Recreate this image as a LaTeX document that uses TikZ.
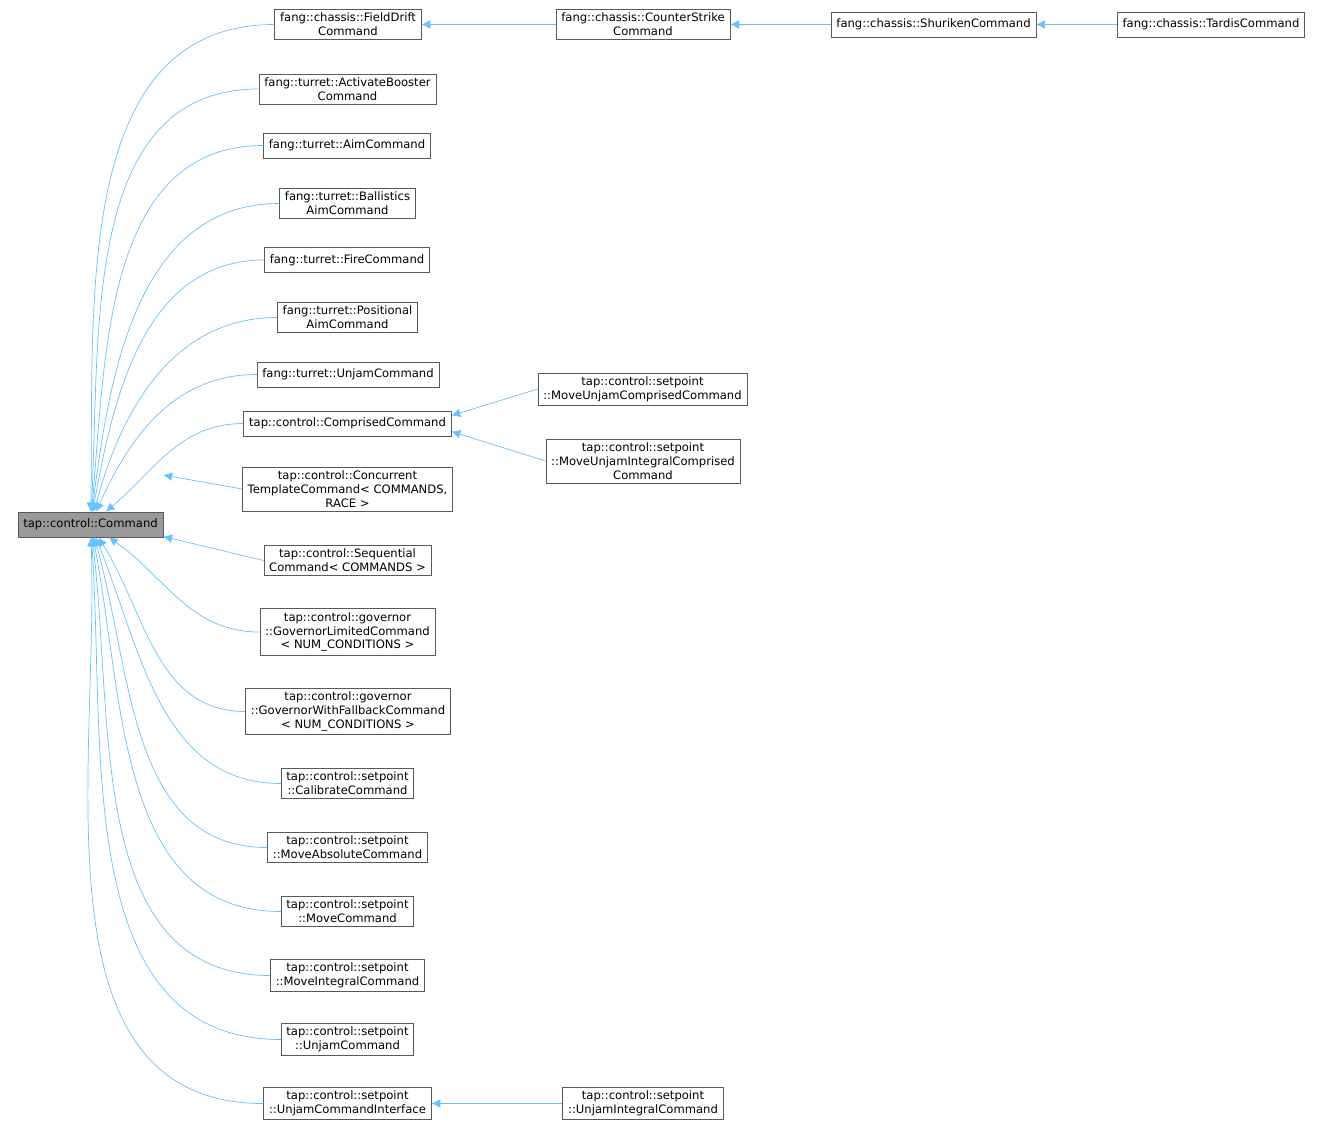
\documentclass[tikz,border=0pt]{standalone}
\usepackage{fontspec}
\setmainfont{DejaVu Sans}
\usetikzlibrary{arrows.meta}

\tikzset{
  cls/.style={draw=black!65, fill=white, align=center, font=\fontsize{6.6}{7.9}\selectfont,
    inner xsep=3pt, inner ysep=2pt, minimum height=0.5cm},
  base/.style={cls, fill=black!40},
  edge/.style={draw=blue!40!cyan!60, {Latex[length=5pt,width=5pt]}-}
}

\begin{document}
\begin{tikzpicture}[x=0.02cm,y=-0.02cm]
  \useasboundingbox (0,0) rectangle (1327,1129);

  \node[base] (cmd) at (90.5,524.5) {tap::control::Command};

  % first column
  \node[cls] (fdrift) at (348,24.5) {fang::chassis::FieldDrift\\Command};
  \node[cls] (boost) at (347.5,89) {fang::turret::ActivateBooster\\Command};
  \node[cls] (aim) at (347,145.5) {fang::turret::AimCommand};
  \node[cls] (ball) at (347.5,203.5) {fang::turret::Ballistics\\AimCommand};
  \node[cls] (fire) at (347,260) {fang::turret::FireCommand};
  \node[cls] (posaim) at (347.5,317.5) {fang::turret::Positional\\AimCommand};
  \node[cls] (tunjam) at (348,374.5) {fang::turret::UnjamCommand};
  \node[cls] (compr) at (347.5,423.5) {tap::control::ComprisedCommand};
  \node[cls] (conc) at (347.5,489) {tap::control::Concurrent\\TemplateCommand< COMMANDS,\\RACE >};
  \node[cls] (seq) at (347.5,560.5) {tap::control::Sequential\\Command< COMMANDS >};
  \node[cls] (govlim) at (347.5,632) {tap::control::governor\\::GovernorLimitedCommand\\< NUM\_CONDITIONS >};
  \node[cls] (govfb) at (348,711.5) {tap::control::governor\\::GovernorWithFallbackCommand\\< NUM\_CONDITIONS >};
  \node[cls] (calib) at (347.5,783.5) {tap::control::setpoint\\::CalibrateCommand};
  \node[cls] (moveabs) at (347.5,847.5) {tap::control::setpoint\\::MoveAbsoluteCommand};
  \node[cls] (move) at (347.5,911.5) {tap::control::setpoint\\::MoveCommand};
  \node[cls] (moveint) at (347.5,975.5) {tap::control::setpoint\\::MoveIntegralCommand};
  \node[cls] (sunjam) at (347.5,1039.5) {tap::control::setpoint\\::UnjamCommand};
  \node[cls] (unjamif) at (347.5,1103.5) {tap::control::setpoint\\::UnjamCommandInterface};

  % further columns
  \node[cls] (cstrike) at (643,24.5) {fang::chassis::CounterStrike\\Command};
  \node[cls] (shuri) at (933.5,24.5) {fang::chassis::ShurikenCommand};
  \node[cls] (tardis) at (1211,24.5) {fang::chassis::TardisCommand};
  \node[cls] (muc) at (642.5,389) {tap::control::setpoint\\::MoveUnjamComprisedCommand};
  \node[cls] (muic) at (643,461) {tap::control::setpoint\\::MoveUnjamIntegralComprised\\Command};
  \node[cls] (uic) at (643,1103.5) {tap::control::setpoint\\::UnjamIntegralCommand};

  % edges to the base
  \foreach \n/\a in {fdrift/89,boost/87,aim/85,ball/83,fire/80,posaim/75,tunjam/66,compr/40}
    \draw[edge] (cmd) to[out=\a,in=180] (\n.west);
  \draw[edge] (cmd.east |- conc.west) ++(0,-14) -- (conc.west);
  \draw[edge] (cmd.east) ++(0,12) -- (seq.west);
  \foreach \n/\a in {govlim/-35,govfb/-58,calib/-68,moveabs/-74,move/-79,moveint/-83,sunjam/-86,unjamif/-88}
    \draw[edge] (cmd) to[out=\a,in=180] (\n.west);

  \draw[edge] (fdrift) -- (cstrike);
  \draw[edge] (cstrike) -- (shuri);
  \draw[edge] (shuri) -- (tardis);
  \draw[edge] (compr.east) ++(0,-8) -- (muc.west);
  \draw[edge] (compr.east) ++(0,8) -- (muic.west);
  \draw[edge] (unjamif) -- (uic);
\end{tikzpicture}
\end{document}
